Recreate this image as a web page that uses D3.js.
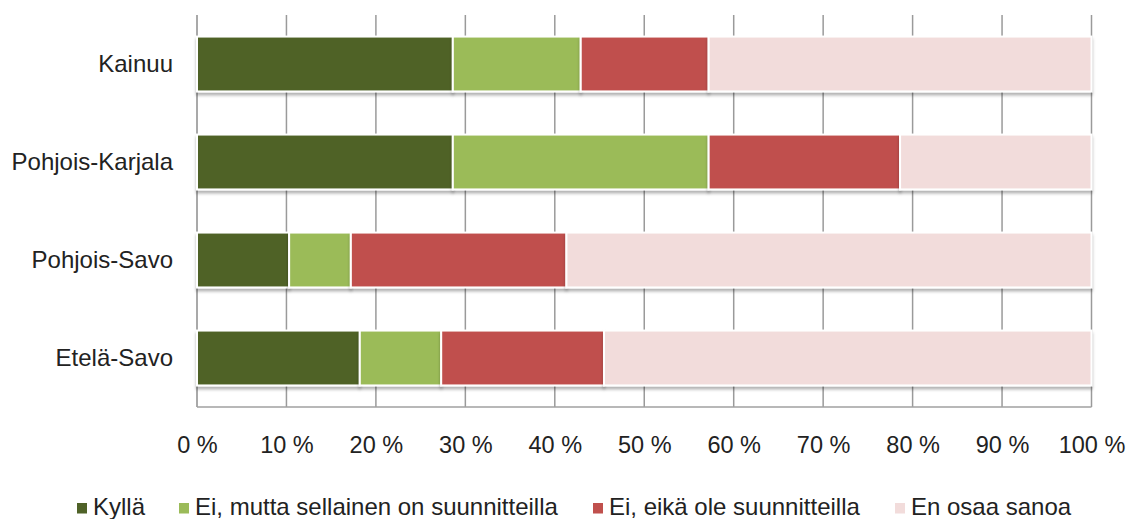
<!DOCTYPE html>
<html>
<head>
<meta charset="utf-8">
<script src="https://cdn.jsdelivr.net/npm/d3@7"></script>
<style>
  html, body { margin: 0; padding: 0; background: #fff; }
  svg { display: block; }
  text { font-family: "Liberation Sans", Arial, sans-serif; fill: #222; }
</style>
</head>
<body>
<svg id="chart" width="1127" height="519"></svg>
<script>
// Regions (top to bottom) and answer shares in percent
const regions = ["Kainuu", "Pohjois-Karjala", "Pohjois-Savo", "Etelä-Savo"];
const seriesNames = ["Kyllä", "Ei, mutta sellainen on suunnitteilla", "Ei, eikä ole suunnitteilla", "En osaa sanoa"];
const kylla   = [28.6, 28.6, 10.3, 18.2];
const eiMutta = [14.3, 28.6, 6.9, 9.1];
const eiEika  = [14.3, 21.4, 24.1, 18.2];
const enOsaa  = [42.8, 21.4, 58.7, 54.5];
const tickValues = [0, 10, 20, 30, 40, 50, 60, 70, 80, 90, 100];
const colors = ["#4F6228", "#9BBB59", "#C0504D", "#F2DCDB"];

const rows = regions.map((r, i) => ({
  region: r,
  [seriesNames[0]]: kylla[i],
  [seriesNames[1]]: eiMutta[i],
  [seriesNames[2]]: eiEika[i],
  [seriesNames[3]]: enOsaa[i]
}));

const svg = d3.select("#chart");
const margin = { left: 197, right: 35.5, top: 15, bottom: 112 };
const W = 1127, H = 519;

const x = d3.scaleLinear().domain([0, 100]).range([margin.left, W - margin.right]);
const y = d3.scaleBand().domain(regions).range([margin.top, H - margin.bottom]).paddingInner(0.44).paddingOuter(0.22);

// soft shadow under each bar
const defs = svg.append("defs");
const f = defs.append("filter").attr("id", "shadow").attr("x", "-5%").attr("y", "-20%").attr("width", "110%").attr("height", "150%");
f.append("feDropShadow").attr("dx", 0).attr("dy", 3).attr("stdDeviation", 1.8)
  .attr("flood-color", "#000").attr("flood-opacity", 0.3);

// vertical gridlines
svg.append("g")
  .selectAll("line")
  .data(tickValues.slice(1))
  .join("line")
  .attr("x1", d => x(d)).attr("x2", d => x(d))
  .attr("y1", margin.top).attr("y2", H - margin.bottom)
  .attr("stroke", "#9a9a9a").attr("stroke-width", 1.5);

// axis lines
svg.append("line")
  .attr("x1", x(0)).attr("x2", x(0))
  .attr("y1", margin.top).attr("y2", H - margin.bottom)
  .attr("stroke", "#8c8c8c").attr("stroke-width", 1.5);
svg.append("line")
  .attr("x1", x(0)).attr("x2", x(100))
  .attr("y1", H - margin.bottom).attr("y2", H - margin.bottom)
  .attr("stroke", "#a0a0a0").attr("stroke-width", 1.5);

// stacked bars
const stack = d3.stack().keys(seriesNames);
const layers = stack(rows);

svg.append("g")
  .selectAll("g")
  .data(layers)
  .join("g")
  .attr("fill", (d, i) => colors[i])
  .selectAll("rect")
  .data(d => d)
  .join("rect")
  .attr("x", d => x(d[0]))
  .attr("y", d => y(d.data.region))
  .attr("width", d => x(d[1]) - x(d[0]))
  .attr("height", y.bandwidth())
  .attr("stroke", "#fff")
  .attr("stroke-width", 2)
  .attr("filter", "url(#shadow)");

// category labels
svg.append("g")
  .selectAll("text")
  .data(regions)
  .join("text")
  .attr("x", 173)
  .attr("y", d => y(d) + y.bandwidth() / 2)
  .attr("dy", "0.35em")
  .attr("text-anchor", "end")
  .attr("font-size", 24)
  .text(d => d);

// x tick labels
const xAxis = d3.axisBottom(x).tickValues(tickValues).tickSize(0).tickPadding(0)
  .tickFormat(d => d + " %");
const gx = svg.append("g").attr("transform", `translate(0, ${H - margin.bottom})`).call(xAxis);
gx.select(".domain").remove();
gx.selectAll("text")
  .attr("y", 46)
  .attr("dy", 0)
  .attr("font-size", 23.5)
  .attr("font-family", "'Liberation Sans', Arial, sans-serif")
  .attr("fill", "#222");

// legend
const legendX = [77, 179, 593, 895];
const lg = svg.append("g")
  .selectAll("g")
  .data(seriesNames)
  .join("g")
  .attr("transform", (d, i) => `translate(${legendX[i]}, 503)`);
lg.append("rect").attr("width", 10).attr("height", 10.5).attr("fill", (d, i) => colors[i]);
lg.append("text").attr("x", 16).attr("y", 11.5).attr("font-size", 24).text(d => d);
</script>
</body>
</html>
